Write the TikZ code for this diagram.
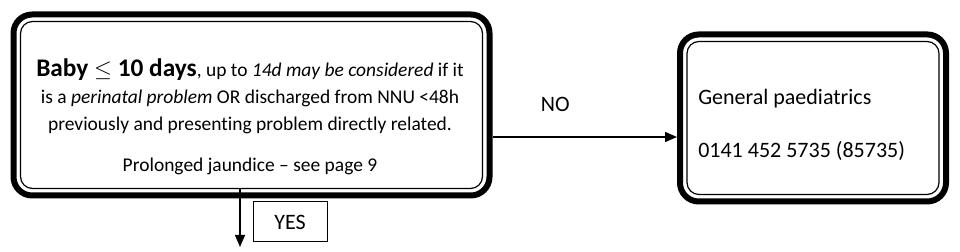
\documentclass[tikz,border=0pt]{standalone}
\usepackage{fontspec}
\setmainfont{Carlito}[Ligatures={TeX,NoCommon}]
\usetikzlibrary{arrows.meta,positioning,calc}
\usepackage{xcolor}
\definecolor{ink}{HTML}{000000}
\tikzset{
  framebox/.style={draw=ink, rounded corners=14pt, line width=4.5pt},
  innerline/.style={draw=ink, rounded corners=9pt, line width=0.9pt},
  boxtext/.style={inner sep=0pt, font=\fontsize{16.5pt}{20.25pt}\selectfont},
  smalltext/.style={inner sep=0pt, font=\fontsize{14.6pt}{20.25pt}\selectfont},
  yesbox/.style={boxtext, draw=ink, line width=0.75pt, minimum width=55.5pt, minimum height=30pt},
  edgelabel/.style={boxtext},
  arrow/.style={-{Triangle[length=9pt,width=7.5pt]}, line width=1.1pt, draw=ink}
}
\begin{document}
\begin{tikzpicture}[x=0.75pt, y=0.75pt]
  \useasboundingbox (0,0) rectangle (960,252);
  \node[framebox, minimum width=357pt, minimum height=135.75pt] (criteria) at (251.5,147) {};
  \draw[innerline] ($(criteria.south west)+(10,10)$) rectangle ($(criteria.north east)-(10,10)$);
  \node[smalltext, align=center] (criteriatext) at (250,135.5) {{\fontsize{19pt}{20.25pt}\selectfont\textbf{Baby $\leq$ 10 days}}, up to \textit{14d may be considered} if it\\is a \textit{perinatal problem} OR discharged from NNU <48h\\previously and presenting problem directly related.\\[10.5pt]Prolonged jaundice -- see page 9};
  \node[framebox, minimum width=199.5pt, minimum height=125.25pt] (genpaed) at (813,134) {};
  \draw[innerline] ($(genpaed.south west)+(10,10)$) rectangle ($(genpaed.north east)-(10,10)$);
  \node[boxtext, align=left, anchor=west] (genpaedtext) at (698,127.2) {General paediatrics\\[19.25pt]0141 452 5735 (85735)};
  \coordinate (nostart) at ($(criteria.east)+(0,-32)$);
  \draw[arrow] (nostart) -- node[edgelabel, pos=0.34, above=18.75pt] (nolabel) {NO} (nostart -| genpaed.west);
  \coordinate (yesend) at (240,5);
  \draw[arrow] ($(criteria.south -| yesend)+(0,10)$) -- (yesend);
  \node[yesbox] (yes) at (290,30) {YES};
\end{tikzpicture}
\end{document}
